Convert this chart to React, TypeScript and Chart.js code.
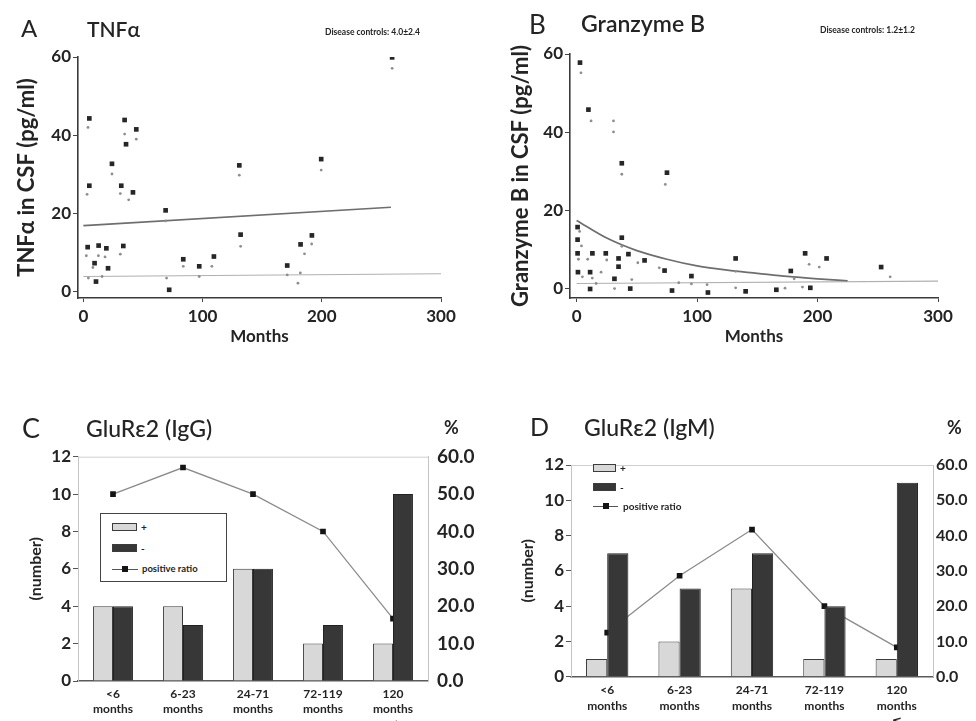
import React, { useEffect, useRef } from "react";
import { Chart, registerables } from "chart.js";
Chart.register(...registerables);

const FONT = "Lato, 'Open Sans', 'DejaVu Sans', sans-serif";
const INK = "#242424";

// ---------- Panel A : TNFα ----------
const tnfDarkX = [5, 5, 3.6, 9.4, 12.8, 10.6, 19.3, 20.7, 24, 31.8, 33.5, 34.6, 35.8, 41.6, 44.4, 69, 72, 83.8, 97.2, 109.5, 130.8, 131.9, 171, 182.2, 191.7, 199.5, 259];
const tnfDarkY = [44.3, 27.1, 11.4, 7.3, 11.8, 2.6, 11.1, 6.0, 32.7, 27.1, 11.7, 43.9, 37.7, 25.4, 41.5, 20.8, 0.5, 8.3, 6.5, 9.0, 32.3, 14.6, 6.7, 12.1, 14.4, 33.9, 59.9];
const tnfGreyX = [3.9, 3.1, 2.5, 8, 12.6, 4.2, 18.2, 15.7, 24, 31, 31, 34.6, 38, 44.4, 69, 69.8, 83.8, 97.2, 107.8, 130.8, 131.9, 171, 180, 182, 185.5, 191.5, 199.5, 259];
const tnfGreyY = [42.0, 24.9, 9.2, 6.2, 9.2, 3.5, 8.9, 3.9, 30.1, 25.1, 9.6, 40.3, 23.5, 39.0, 18.1, 3.5, 6.5, 3.9, 6.5, 29.8, 11.6, 4.3, 2.2, 4.8, 9.7, 12.2, 31.1, 57.1];
const tnfFitX = [0, 258];
const tnfFitY = [16.9, 21.6];
const tnfCtrlX = [0, 300];
const tnfCtrlY = [3.9, 4.6];

// ---------- Panel B : Granzyme B ----------
const grzDarkX = [2.8, 9.8, 37.5, 75, 0.8, 0.8, 0.8, 1.1, 13.1, 11.2, 11.2, 24.2, 37.5, 34.8, 34.8, 31.4, 43, 44.5, 56.4, 73, 79.2, 95.3, 109, 132, 140.3, 165.8, 177.8, 189.7, 194, 207.5, 252.8];
const grzDarkY = [57.8, 45.8, 32.1, 29.7, 15.8, 12.6, 9.1, 4.3, 9.1, 4.3, 0, 9.1, 13.1, 7.8, 5.7, 2.6, 8.9, 0.1, 7.3, 4.7, -0.4, 3.3, -0.9, 7.8, -0.6, -0.2, 4.6, 9.1, 0.3, 7.8, 5.6];
const grzGreyX = [3.6, 12, 30.6, 30.6, 37.5, 73.6, 2.5, 4, 1.5, 4.8, 9.2, 13, 16.2, 20.3, 25, 31.5, 37.5, 45.8, 50.8, 68.6, 84.8, 95.3, 108.3, 132, 132, 173, 180.6, 193, 187.5, 201.4, 260.3];
const grzGreyY = [55.2, 42.9, 42.9, 40.1, 29.3, 26.7, 14.7, 11, 7.6, 3.1, 7.6, 2.8, 1.4, 4.3, 7.4, 0.1, 10.9, 2.4, 6.7, 5.4, 1.6, 1.3, 1.1, 4.5, 0.3, 0.2, 2.6, 6.3, 0.5, 5.6, 3.1];
const grzFitX = [0, 25, 50, 75, 100, 125, 150, 175, 200, 225];
const grzFitY = [17.5, 13.0, 9.8, 7.6, 5.9, 4.8, 4.0, 3.2, 2.6, 2.1];
const grzCtrlX = [0, 300];
const grzCtrlY = [1.4, 2.0];

const monthTicks = [0, 100, 200, 300];
const pgTicks = [0, 20, 40, 60];

// ---------- Panels C / D : GluRε2 ----------
const ageLabels = [
  ["<6", "months"],
  ["6-23", "months"],
  ["24-71", "months"],
  ["72-119", "months"],
  ["120", "months", "≦"],
];
const igGPos = [4, 4, 6, 2, 2];
const igGNeg = [4, 3, 6, 3, 10];
const igGRatio = [50, 57.1, 50, 40, 16.7];
const igMPos = [1, 2, 5, 1, 1];
const igMNeg = [7, 5, 7, 4, 11];
const igMRatio = [12.5, 28.6, 41.7, 20, 8.3];
const numberTicks = [0, 2, 4, 6, 8, 10, 12];
const percentTicks = [0, 10, 20, 30, 40, 50, 60];

const zip = (xs: number[], ys: number[]) => xs.map((x, i) => ({ x, y: ys[i] }));
const setTicks = (vals: number[]) => (s: any) => {
  s.ticks = vals.map((v) => ({ value: v }));
};

function scatterConfig(p: {
  darkX: number[]; darkY: number[]; greyX: number[]; greyY: number[];
  fitX: number[]; fitY: number[]; ctrlX: number[]; ctrlY: number[];
  xMin: number; yMin: number; top: number; right: number; yWidth: number;
  yTitle: string; yTitlePad: number; yTitleSize: number;
}): any {
  return {
    type: "scatter",
    data: {
      datasets: [
        { data: zip(p.darkX, p.darkY), pointStyle: "rect", pointRadius: 3.3, pointBackgroundColor: "#262626", pointBorderWidth: 0 },
        { data: zip(p.greyX, p.greyY), pointStyle: "circle", pointRadius: 1.4, pointBackgroundColor: "#8e8e8e", pointBorderWidth: 0 },
        { data: zip(p.fitX, p.fitY), showLine: true, pointRadius: 0, borderColor: "#6e6e6e", borderWidth: 1.7, cubicInterpolationMode: "monotone" },
        { data: zip(p.ctrlX, p.ctrlY), showLine: true, pointRadius: 0, borderColor: "#b0b0b0", borderWidth: 1.2 },
      ],
    },
    options: {
      animation: false,
      responsive: false,
      layout: { padding: { top: p.top, right: p.right, left: 0, bottom: 0 } },
      plugins: { legend: { display: false }, tooltip: { enabled: false } },
      scales: {
        x: {
          type: "linear", min: p.xMin, max: 300,
          afterBuildTicks: setTicks(monthTicks),
          afterFit: (s: any) => { s.height = 62; },
          grid: { display: true, drawOnChartArea: false, drawTicks: true, tickLength: 4, color: "#444" },
          border: { color: "#3a3a3a", width: 1.6 },
          ticks: { font: { family: FONT, size: 17, weight: "bold" }, color: INK, padding: 4, maxRotation: 0 },
          title: { display: true, text: "Months", color: INK, font: { family: FONT, size: 17, weight: "bold" }, padding: { top: 0, bottom: 13 } },
        },
        y: {
          type: "linear", min: p.yMin, max: 60,
          afterBuildTicks: setTicks(pgTicks),
          afterFit: (s: any) => { s.width = p.yWidth; },
          grid: { display: true, drawOnChartArea: false, drawTicks: true, tickLength: 5, color: "#444" },
          border: { color: "#3a3a3a", width: 1.6 },
          ticks: { font: { family: FONT, size: 17, weight: "bold" }, color: INK, padding: 2 },
          title: { display: true, text: p.yTitle, color: INK, font: { family: FONT, size: p.yTitleSize, weight: "bold" }, padding: { top: p.yTitlePad, bottom: 0 } },
        },
      },
    },
  };
}

const topBorder = {
  id: "topBorder",
  beforeDatasetsDraw(chart: any) {
    const { ctx, chartArea } = chart;
    ctx.save();
    ctx.strokeStyle = "#cfcfcf";
    ctx.lineWidth = 1;
    ctx.beginPath();
    ctx.moveTo(chartArea.left, chartArea.top + 0.5);
    ctx.lineTo(chartArea.right, chartArea.top + 0.5);
    ctx.stroke();
    ctx.restore();
  },
};

function barConfig(p: {
  pos: number[]; neg: number[]; ratio: number[];
  top: number; yWidth: number; y1Width: number; xHeight: number; catPct: number;
  y1Size: number; y1Pad: number; xPad: number; xLine: number; titlePad: number;
}): any {
  return {
    type: "bar",
    data: {
      labels: ageLabels,
      datasets: [
        { label: "+", data: p.pos, backgroundColor: "#d8d8d8", borderColor: "#3c3c3c", borderWidth: 1, yAxisID: "y", order: 0, barPercentage: 1, categoryPercentage: p.catPct },
        { label: "-", data: p.neg, backgroundColor: "#373737", borderColor: "#222", borderWidth: 1, yAxisID: "y", order: 0, barPercentage: 1, categoryPercentage: p.catPct },
        { type: "line", label: "positive ratio", data: p.ratio, yAxisID: "y1", order: 1, borderColor: "#8c8c8c", borderWidth: 1.3, pointStyle: "rect", pointRadius: 4, pointBackgroundColor: "#141414", pointBorderWidth: 0 },
      ],
    },
    options: {
      animation: false,
      responsive: false,
      layout: { padding: { top: p.top, right: 0, left: 0, bottom: 0 } },
      plugins: { legend: { display: false }, tooltip: { enabled: false } },
      scales: {
        x: {
          afterFit: (s: any) => { s.height = p.xHeight; },
          grid: { display: false, drawTicks: false },
          border: { color: "#5a5a5a", width: 1.6 },
          ticks: { font: { family: FONT, size: 12, weight: "bold", lineHeight: p.xLine }, color: INK, padding: p.xPad, maxRotation: 0, autoSkip: false },
        },
        y: {
          position: "left", min: 0, max: 12,
          afterBuildTicks: setTicks(numberTicks),
          afterFit: (s: any) => { s.width = p.yWidth; },
          grid: { display: true, drawOnChartArea: false, drawTicks: true, tickLength: 5, color: "#555" },
          border: { color: "#c4c4c4", width: 1 },
          ticks: { font: { family: FONT, size: 17, weight: "bold" }, color: INK, padding: 2 },
          title: { display: true, text: "(number)", color: INK, font: { family: FONT, size: 16, weight: "bold" }, padding: { top: p.titlePad, bottom: 0 } },
        },
        y1: {
          position: "right", min: 0, max: 60,
          afterBuildTicks: setTicks(percentTicks),
          afterFit: (s: any) => { s.width = p.y1Width; },
          grid: { display: false, drawTicks: false },
          border: { color: "#c4c4c4", width: 1 },
          ticks: { font: { family: FONT, size: p.y1Size, weight: "bold" }, color: INK, padding: p.y1Pad, callback: (v: any) => Number(v).toFixed(1) },
        },
      },
    },
    plugins: [topBorder],
  };
}

function ChartCanvas(props: { left: number; top: number; width: number; height: number; build: () => any }) {
  const ref = useRef<HTMLCanvasElement>(null);
  useEffect(() => {
    const chart = new Chart(ref.current as HTMLCanvasElement, props.build());
    return () => chart.destroy();
  }, []);
  return (
    <canvas
      ref={ref}
      width={props.width}
      height={props.height}
      style={{ position: "absolute", left: props.left, top: props.top, width: props.width, height: props.height, display: "block" }}
    />
  );
}

const txt = (left: number, top: number, size: number, weight: number | string, text: string, extra: any = {}) => (
  <div style={{ position: "absolute", left, top, fontSize: size, fontWeight: weight as any, lineHeight: 1, color: INK, whiteSpace: "nowrap", ...extra }}>{text}</div>
);

function Swatch(p: { left: number; top: number; w: number; h: number; fill: string }) {
  return <div style={{ position: "absolute", left: p.left, top: p.top, width: p.w, height: p.h, background: p.fill, border: "1px solid #3c3c3c", boxSizing: "border-box" }} />;
}

function LineKey(p: { left: number; top: number; w: number }) {
  return (
    <>
      <div style={{ position: "absolute", left: p.left, top: p.top, width: p.w, height: 0, borderTop: "1.3px solid #555" }} />
      <div style={{ position: "absolute", left: p.left + p.w / 2 - 3, top: p.top - 3, width: 6, height: 6, background: "#141414" }} />
    </>
  );
}

export default function App() {
  return (
    <div style={{ position: "absolute", left: 0, top: 0, width: 976, height: 721, background: "#fff", overflow: "hidden", fontFamily: FONT }}>
      <ChartCanvas left={0} top={0} width={488} height={360} build={() => scatterConfig({
        darkX: tnfDarkX, darkY: tnfDarkY, greyX: tnfGreyX, greyY: tnfGreyY,
        fitX: tnfFitX, fitY: tnfFitY, ctrlX: tnfCtrlX, ctrlY: tnfCtrlY,
        xMin: -4.5, yMin: -1.6, top: 57, right: 47, yWidth: 78,
        yTitle: "TNFα in CSF (pg/ml)", yTitlePad: 14, yTitleSize: 22,
      })} />
      <ChartCanvas left={488} top={0} width={488} height={360} build={() => scatterConfig({
        darkX: grzDarkX, darkY: grzDarkY, greyX: grzGreyX, greyY: grzGreyY,
        fitX: grzFitX, fitY: grzFitY, ctrlX: grzCtrlX, ctrlY: grzCtrlY,
        xMin: -5.5, yMin: -2.3, top: 54, right: 38, yWidth: 82,
        yTitle: "Granzyme B in CSF (pg/ml)", yTitlePad: 20, yTitleSize: 22,
      })} />
      <ChartCanvas left={0} top={360} width={488} height={361} build={() => barConfig({
        pos: igGPos, neg: igGNeg, ratio: igGRatio,
        top: 96.7, yWidth: 78, y1Width: 60, xHeight: 40, catPct: 0.57,
        y1Size: 19, y1Pad: 9, xPad: 6, xLine: 1.25, titlePad: 26,
      })} />
      <ChartCanvas left={488} top={360} width={488} height={361} build={() => barConfig({
        pos: igMPos, neg: igMNeg, ratio: igMRatio,
        top: 105, yWidth: 83, y1Width: 43, xHeight: 44.3, catPct: 0.585,
        y1Size: 16, y1Pad: 3, xPad: 5, xLine: 1.33, titlePad: 30,
      })} />

      {/* panel headings */}
      {txt(21, 16, 24, 400, "A")}
      {txt(87, 18, 21, 600, "TNFα")}
      {txt(325, 28, 8.5, 700, "Disease controls: 4.0±2.4")}
      {txt(529, 11, 26, 400, "B")}
      {txt(581, 12, 23, 600, "Granzyme B")}
      {txt(820, 26, 8.5, 700, "Disease controls: 1.2±1.2")}
      {txt(22, 414, 27, 400, "C")}
      {txt(86, 417, 23, 500, "GluRε2 (IgG)")}
      {txt(444, 418, 18, 700, "%")}
      {txt(530, 414, 25, 400, "D")}
      {txt(584, 416, 23, 500, "GluRε2 (IgM)")}
      {txt(947, 418, 18, 700, "%")}

      {/* legend C */}
      <div style={{ position: "absolute", left: 100, top: 513, width: 127, height: 69, border: "1.5px solid #444", boxSizing: "border-box", background: "#fff" }}>
        <Swatch left={11} top={9} w={25} h={8} fill="#d8d8d8" />
        {txt(40, 8, 10, 700, "+")}
        <Swatch left={11} top={30} w={25} h={8} fill="#373737" />
        {txt(40, 29, 10, 700, "-")}
        <LineKey left={11} top={55} w={26} />
        {txt(41, 50, 9.5, 700, "positive ratio")}
      </div>

      {/* legend D */}
      <div style={{ position: "absolute", left: 593, top: 464, width: 130, height: 50 }}>
        <Swatch left={0} top={0} w={23} h={8} fill="#d8d8d8" />
        {txt(27, -1, 10, 700, "+")}
        <Swatch left={0} top={19} w={23} h={8} fill="#373737" />
        {txt(27, 18, 10, 700, "-")}
        <LineKey left={0} top={42} w={25} />
        {txt(30, 37, 10, 700, "positive ratio")}
      </div>
    </div>
  );
}
